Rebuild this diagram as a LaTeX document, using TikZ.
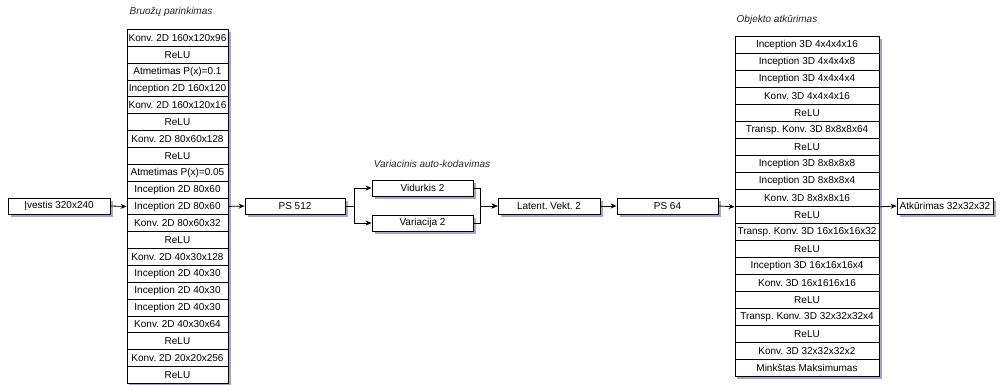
\documentclass[tikz,border=0pt]{standalone}
\usepackage{fontspec}
\setmainfont{Liberation Sans}
\usetikzlibrary{arrows.meta,shadows,backgrounds,fit}
\frenchspacing

\begin{document}
\begin{tikzpicture}[x=1pt,y=-1pt,
  font=\fontsize{10}{11}\selectfont,
  shadowed/.style={drop shadow={shadow xshift=2.5pt, shadow yshift=-2.5pt, opacity=0.35, fill=black!55!blue}},
  box/.style={draw, line width=0.8pt, fill=white, inner sep=0pt, minimum height=16pt, shadowed},
  lrow/.style={draw, line width=0.8pt, fill=white, inner sep=0pt, minimum height=16.86pt, minimum width=101pt, anchor=north},
  rrow/.style={draw, line width=0.8pt, fill=white, inner sep=0pt, minimum height=17pt, minimum width=144pt, anchor=north},
  colshadow/.style={inner sep=0pt, fill=white, shadowed},
  title/.style={font=\fontsize{10}{11}\selectfont\itshape, text=black!85},
  arr/.style={-{Stealth[length=6pt,width=5pt]}, line width=0.8pt},
]
\useasboundingbox (0,0) rectangle (1001,384);

% encoder column
\foreach \t [count=\i] in {Konv. 2D 160x120x96, ReLU, Atmetimas P(x)=0.1, Inception 2D 160x120,
  Konv. 2D 160x120x16, ReLU, Konv. 2D 80x60x128, ReLU, Atmetimas P(x)=0.05, Inception 2D 80x60,
  Inception 2D 80x60, Konv. 2D 80x60x32, ReLU, Konv. 2D 40x30x128, Inception 2D 40x30,
  Inception 2D 40x30, Inception 2D 40x30, Konv. 2D 40x30x64, ReLU, Konv. 2D 20x20x256, ReLU}
  \node[lrow] (L\i) at (177.5, {29+(\i-1)*16.86}) {\t};

% decoder column
\foreach \t [count=\i] in {Inception 3D 4x4x4x16, Inception 3D 4x4x4x8, Inception 3D 4x4x4x4,
  Konv. 3D 4x4x4x16, ReLU, Transp. Konv. 3D 8x8x8x64, ReLU, Inception 3D 8x8x8x8,
  Inception 3D 8x8x8x4, Konv. 3D 8x8x8x16, ReLU, Transp. Konv. 3D 16x16x16x32, ReLU,
  Inception 3D 16x16x16x4, Konv. 3D 16x1616x16, ReLU, Transp. Konv. 3D 32x32x32x4, ReLU,
  Konv. 3D 32x32x32x2, Minkštas Maksimumas}
  \node[rrow] (R\i) at (807, {36+(\i-1)*17}) {\t};

\begin{scope}[on background layer]
  \node[colshadow, fit=(L1)(L21)] (Lcol) {};
  \node[colshadow, fit=(R1)(R20)] (Rcol) {};
\end{scope}

% single boxes
\node[box, minimum width=102pt] (in) at (59,206) {Įvestis 320x240};
\node[box, minimum width=100pt] (ps512) at (295,206) {PS 512};
\node[box, minimum width=101pt] (vid) at (422.5,188) {Vidurkis 2};
\node[box, minimum width=101pt] (var) at (422.5,223) {Variacija 2};
\node[box, minimum width=102pt] (lat) at (549,206) {Latent. Vekt. 2};
\node[box, minimum width=101pt] (ps64) at (667.5,206) {PS 64};
\node[box, minimum width=96pt] (out) at (945,206) {Atkūrimas 32x32x32};

% section titles
\node[title] (t1) at (171,12) {Bruožų parinkimas};
\node[title] (t2) at (432,164) {Variacinis auto-kodavimas};
\node[title] (t3) at (777,20) {Objekto atkūrimas};

% connectors
\draw[arr] (in.east) -- (L11.west);
\draw[arr] (L11.east) -- (ps512.west);
\draw[arr] (ps512.east) -- ++(9,0) |- (vid.west);
\draw[arr] (ps512.east) -- ++(9,0) |- (var.west);
\draw[arr] (vid.east) -- ++(7,0) |- (lat.west);
\draw[arr] (var.east) -- ++(7,0) |- (lat.west);
\draw[arr] (lat.east) -- (ps64.west);
\draw[arr] (ps64.east) -- (R10.south west);
\draw[arr] (R10.south east) -- (out.west);
\end{tikzpicture}
\end{document}
